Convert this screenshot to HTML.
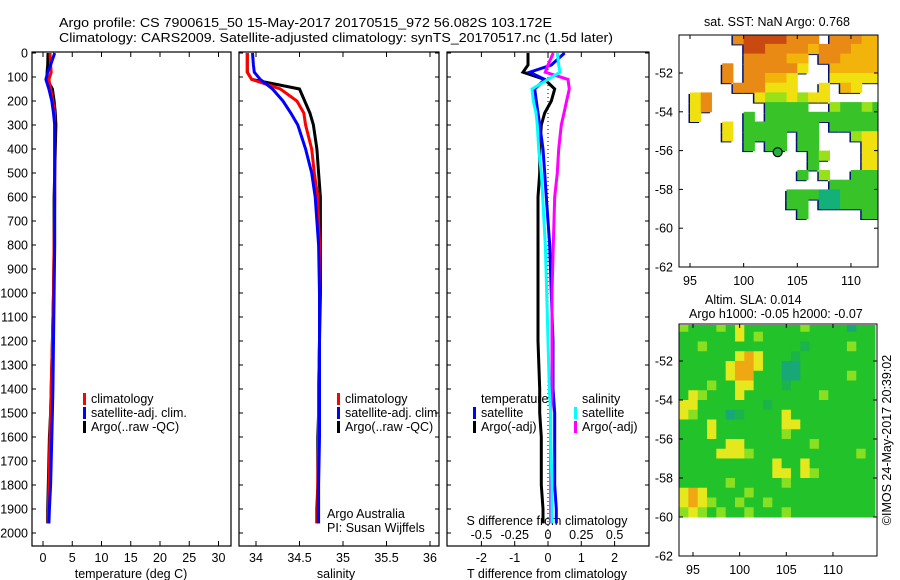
<!DOCTYPE html>
<html><head><meta charset="utf-8"><style>
body{margin:0;background:#fff;}
svg{display:block;font-family:"Liberation Sans",Arial,sans-serif;font-size:12.5px;}
</style></head><body>
<svg id="c" width="900" height="580" viewBox="0 0 900 580">
<text x="59" y="27" textLength="493" lengthAdjust="spacingAndGlyphs">Argo profile: CS 7900615_50 15-May-2017 20170515_972 56.082S 103.172E</text>
<text x="59" y="42" textLength="554" lengthAdjust="spacingAndGlyphs">Climatology: CARS2009. Satellite-adjusted climatology: synTS_20170517.nc (1.5d later)</text>
<g id="g"></g>
</svg>
<script>
// ---- data ----
const depthTicks=[0,100,200,300,400,500,600,700,800,900,1000,1100,1200,1300,1400,1500,1600,1700,1800,1900,2000];
const tempTicks=[0,5,10,15,20,25,30];
const salTicks=[34,34.5,35,35.5,36];
const tdTicks=[-2,-1,0,1,2];
const sdTicks=[-0.5,-0.25,0,0.25,0.5];
const profDepth=[0,50,80,110,150,200,250,300,400,500,600,800,1000,1200,1400,1500,1600,1800,1900,1960];
const tempClim=[1.2,1.3,1.4,1.0,1.3,1.7,2.0,2.0,2.0,2.0,2.0,1.9,1.8,1.6,1.4,1.3,1.2,1.0,0.9,0.9];
const tempSat=[2.0,1.3,0.8,0.5,1.0,1.5,1.8,2.0,2.0,2.0,2.0,2.0,1.9,1.8,1.7,1.6,1.5,1.3,1.1,1.0];
const tempArgo=[0.85,0.8,0.7,0.7,1.6,1.9,2.1,2.2,2.1,2.0,1.9,1.9,1.8,1.6,1.4,1.3,1.1,0.9,0.8,0.8];
const salClim=[33.9,33.9,33.9,33.95,34.28,34.47,34.55,34.57,34.64,34.67,34.71,34.73,34.73,34.73,34.72,34.72,34.72,34.71,34.71,34.71];
const salSat=[33.96,33.97,33.98,34.05,34.19,34.31,34.40,34.48,34.57,34.64,34.68,34.72,34.73,34.73,34.73,34.73,34.73,34.72,34.72,34.72];
const salArgo=[33.9,33.9,33.9,33.95,34.5,34.56,34.62,34.66,34.70,34.72,34.74,34.74,34.74,34.73,34.72,34.72,34.71,34.71,34.70,34.70];
const tDiffSat=[0.5,0.1,-0.55,-0.1,-0.4,-0.35,-0.3,-0.25,-0.15,-0.1,-0.05,0.05,0.1,0.15,0.15,0.2,0.2,0.2,0.25,0.25];
const tDiffArgo=[-0.6,-0.6,-0.75,-0.1,0.2,0.1,-0.1,-0.2,-0.25,-0.25,-0.3,-0.3,-0.3,-0.3,-0.25,-0.25,-0.2,-0.2,-0.15,-0.15];
const sDiffSat=[0.07,0.08,0.09,0.0,-0.12,-0.11,-0.09,-0.08,-0.07,-0.05,-0.04,-0.02,-0.01,0.0,0.01,0.02,0.02,0.03,0.03,0.03];
const sDiffArgo=[0.04,0.0,-0.02,0.15,0.16,0.14,0.12,0.1,0.08,0.07,0.05,0.04,0.03,0.03,0.03,0.02,0.02,0.02,0.02,0.02];
const sstLonStart=94, sstLatStart=-50;
const sstRows=[
".....ORRRROOO.OOOAA",
"......RROOOOAOOOAAA",
"......OOOOAA.OOAAAA",
"....O.OOOOOY..AAAAA",
"....O.OOAAY...YYYYY",
".....OOOYYY..Y.AY..",
".YO....YLLYLYY.....",
".YO.....GGGG..LGGLG",
".Y....G.GGGGGGGGGGG",
"....Y.GGGGGGG.GGGGG",
"....Y.GGGG.GG...LYY",
"......G.GG.GG....YY",
"............GL...YY",
"............G....YY",
"...........G.L..GGG",
"..............GGGGG",
"..........GGGTTGGGG",
"..........GG.TTGGGG",
"...........G.....GG",
"..................."];
const slaLonStart=93.5, slaLatStart=-50;
const slaRows=[
"LGGGLGYGGGGGGLGGGGTGG",
"GGGGGGYGLGGGGGGGGGGGG",
"GGLGGGGGGGGGGDGGGGLGG",
"GGGGGGYOYGGGDGGGGGGGG",
"GGGGGYOOYGGTTGGGGGGGG",
"GGGGGYOOGGGTTGGGGGLGG",
"GGGLGGYYGGGDGGGGGGGGG",
"GYLGGGYGGGGGGGGLGGGGG",
"YYGGGGGGGDGGGGGGGGGGG",
"YLGGGTDGGGGYGGGGGGGGG",
"GGGYGGGGGGGYYGGGGGGGG",
"GGGYGGGGGGGLGGGGGGGGG",
"GGGGGYYGGGGGGGLGGGGGG",
"GGGGYYYLGGGGGGGGGGGLG",
"GGGGGGGGGGYGGYGGGGGGG",
"GGGGGGGGGGYYGYLGGGGGG",
"GGGGGLGGGGGLGGGGGGGGG",
"YOYGGGGLGGGGGGGGGGGGG",
"YOYLGGLGGLGGGGGGGGGGG",
"LYLGLGGLGGGLGGGGGGGGG"];
const argoLon=103.172, argoLat=-56.082;
const mapLatTicks=[-52,-54,-56,-58,-60,-62];
const mapLonTicks=[95,100,105,110];
const sla2LatTicks=[-52,-54,-56,-58,-60,-62];

// ---- helpers ----
const NS="http://www.w3.org/2000/svg";
const G=document.getElementById('g');
function mk(tag,at,parent){const e=document.createElementNS(NS,tag);for(const k in at)e.setAttribute(k,at[k]);(parent||G).appendChild(e);return e;}
function txt(x,y,s,anchor){const t=mk('text',{x:x,y:y,'text-anchor':anchor||'start'});t.textContent=s;return t;}
const yD=d=>53+d*0.24;
const xT=t=>43+t*5.85;
const xS=s=>256+(s-34)*87;
const xTD=v=>548+v*33.3;
const xSD=v=>548+v*133.2;

// frames
[[32,231,'temperature-panel'],[239,439,'salinity-panel'],[447,649,'difference-panel']].forEach(([l,r,n])=>{
  const f=mk('rect',{x:l,y:52,width:r-l,height:494,fill:'none',stroke:'#000','stroke-width':1.2});
  
  
  depthTicks.forEach(d=>{mk('line',{x1:l,x2:l+4,y1:yD(d),y2:yD(d),stroke:'#000'});
    if(n!=='temperature-panel')mk('line',{x1:r-4,x2:r,y1:yD(d),y2:yD(d),stroke:'#000'});});
});
depthTicks.forEach(d=>{const t=txt(28,yD(d)+4.5,String(d),'end');
  
  });
tempTicks.forEach(v=>{const x=xT(v);mk('line',{x1:x,x2:x,y1:546,y2:541,stroke:'#000'});mk('line',{x1:x,x2:x,y1:52,y2:57,stroke:'#000'});
  const t=txt(x,562,String(v),'middle');
  
  });
salTicks.forEach(v=>{const x=xS(v);mk('line',{x1:x,x2:x,y1:546,y2:541,stroke:'#000'});mk('line',{x1:x,x2:x,y1:52,y2:57,stroke:'#000'});
  const t=txt(x,562,String(v),'middle');
  
  });
tdTicks.forEach(v=>{const x=xTD(v);mk('line',{x1:x,x2:x,y1:546,y2:541,stroke:'#000'});mk('line',{x1:x,x2:x,y1:52,y2:57,stroke:'#000'});
  const t=txt(x,562,String(v),'middle');
  
  });
sdTicks.forEach(v=>{const t=txt(xSD(v),539,String(v),'middle');
  
  });
let t;
t=txt(131,578,'temperature (deg C)','middle');
t=txt(336,578,'salinity','middle');
t=txt(547,578,'T difference from climatology','middle');
t=txt(547,525,'S difference from climatology','middle');

// zero dotted line
mk('line',{x1:548,x2:548,y1:53,y2:546,stroke:'#000','stroke-dasharray':'1,3'});

function line(vals,xf,col,name){
  const pts=vals.map((v,i)=>xf(v).toFixed(1)+','+yD(profDepth[i]).toFixed(1)).join(' ');
  const p=mk('polyline',{points:pts,fill:'none',stroke:col,'stroke-width':3});
  
  
}
line(tempArgo,xT,'#000','temp-argo-line');
line(tempClim,xT,'#f00','temp-clim-line');
line(tempSat,xT,'#00f','temp-sat-line');
line(salArgo,xS,'#000','sal-argo-line');
line(salClim,xS,'#f00','sal-clim-line');
line(salSat,xS,'#00f','sal-sat-line');
line(tDiffArgo,xTD,'#000','tdiff-argo-line');
line(tDiffSat,xTD,'#00f','tdiff-sat-line');
line(sDiffArgo,xSD,'#f0f','sdiff-argo-line');
line(sDiffSat,xSD,'#0ff','sdiff-sat-line');

function leg(x,y,col,s,name){mk('rect',{x:x,y:y-10,width:3,height:12,fill:col});const e=txt(x+8,y,s);
  
  }
leg(83,403,'#f00','climatology','legend-climatology');
leg(83,417,'#00f','satellite-adj. clim.','legend-sat-adj');
leg(83,431,'#000','Argo(..raw -QC)','legend-argo');
leg(337,403,'#f00','climatology','legend-climatology-2');
leg(337,417,'#00f','satellite-adj. clim.','legend-sat-adj-2');
leg(337,431,'#000','Argo(..raw -QC)','legend-argo-2');
t=txt(481,403,'temperature');
t=txt(582,403,'salinity');
leg(473,417,'#00f','satellite','legend-t-sat');
leg(473,431,'#000','Argo(-adj)','legend-t-argo');
leg(574,417,'#0ff','satellite','legend-s-sat');
leg(574,431,'#f0f','Argo(-adj)','legend-s-argo');
t=txt(327,518,'Argo Australia');
t=txt(327,532,'PI: Susan Wijffels');

// ---- SST map ----
const sstCol={R:'#c84a10',O:'#e88a14',A:'#f2b40a',Y:'#f0e010',L:'#98e018',G:'#38c428',T:'#14b07a',D:'#22b448'};
const m1x=lon=>690+(lon-95)*10.73, m1y=lat=>73+(-52-lat)*19.4;
const g1=mk('g',{});


sstRows.forEach((row,r)=>{[...row].forEach((ch,c)=>{if(ch==='.')return;
  const x=m1x(sstLonStart+c),y=m1y(sstLatStart-0.5*r),w=m1x(sstLonStart+c+1)-x,h=m1y(sstLatStart-0.5*r-0.5)-y;
  mk('rect',{x:x-1.5,y:y+1.5,width:w,height:h,fill:'#001070'},g1);});});
sstRows.forEach((row,r)=>{[...row].forEach((ch,c)=>{if(ch==='.')return;
  const x=m1x(sstLonStart+c),y=m1y(sstLatStart-0.5*r),w=m1x(sstLonStart+c+1)-x,h=m1y(sstLatStart-0.5*r-0.5)-y;
  const cell=mk('rect',{x:x,y:y,width:w+0.5,height:h+0.5,fill:sstCol[ch]},g1);
  
  });});
mk('rect',{x:878,y:30,width:22,height:245,fill:'#fff'});
mk('rect',{x:660,y:30,width:19,height:245,fill:'#fff'});
mk('rect',{x:679,y:20,width:200,height:15,fill:'#fff'});
const dot=mk('circle',{cx:m1x(argoLon),cy:m1y(argoLat),r:4.5,fill:'#20b040',stroke:'#000','stroke-width':1.2});


mk('rect',{x:679,y:35,width:199,height:232,fill:'none',stroke:'#000'});
mapLatTicks.forEach(v=>{const y=m1y(v);mk('line',{x1:679,x2:683,y1:y,y2:y,stroke:'#000'});mk('line',{x1:874,x2:878,y1:y,y2:y,stroke:'#000'});
  const e=txt(673,y+4.5,String(v),'end');});
mapLonTicks.forEach(v=>{const x=m1x(v);mk('line',{x1:x,x2:x,y1:267,y2:263,stroke:'#000'});mk('line',{x1:x,x2:x,y1:35,y2:39,stroke:'#000'});
  const e=txt(x,285,String(v),'middle');});
t=txt(777,26,'sat. SST: NaN Argo: 0.768','middle');
t=txt(705,304,'Altim. SLA: 0.014');
t=txt(689,318,'Argo h1000: -0.05 h2000: -0.07');

// ---- SLA map ----
const slaCol={G:'#22c22a',L:'#88e020',Y:'#e4e81c',O:'#f0a812',T:'#18a878',D:'#1ab44a'};
const m2x=lon=>693+(lon-95)*9.33, m2y=lat=>400+(-54-lat)*19.5;
const g2=mk('g',{});


slaRows.forEach((row,r)=>{[...row].forEach((ch,c)=>{
  let x=Math.max(679,m2x(slaLonStart+c)),x2=Math.min(877,m2x(slaLonStart+c+1));
  let y=Math.max(325,m2y(slaLatStart-0.5*r)),y2=m2y(slaLatStart-0.5*r-0.5);
  if(x2<=x||y2<=y)return;
  const cell=mk('rect',{x:x,y:y,width:x2-x+0.5,height:y2-y+0.5,fill:slaCol[ch]||'#22c22a'},g2);
  
  });});
mk('rect',{x:679,y:324,width:198,height:232,fill:'none',stroke:'#000'});
sla2LatTicks.forEach(v=>{const y=m2y(v);mk('line',{x1:679,x2:683,y1:y,y2:y,stroke:'#000'});mk('line',{x1:873,x2:877,y1:y,y2:y,stroke:'#000'});
  const e=txt(673,y+4.5,String(v),'end');});
mapLonTicks.forEach(v=>{const x=m2x(v);mk('line',{x1:x,x2:x,y1:556,y2:552,stroke:'#000'});mk('line',{x1:x,x2:x,y1:324,y2:328,stroke:'#000'});
  const e=txt(x,574,String(v),'middle');});
t=txt(0,0,'©IMOS 24-May-2017 20:39:02','middle');
t.setAttribute('transform','translate(891,440) rotate(-90)');


</script>
</body></html>
